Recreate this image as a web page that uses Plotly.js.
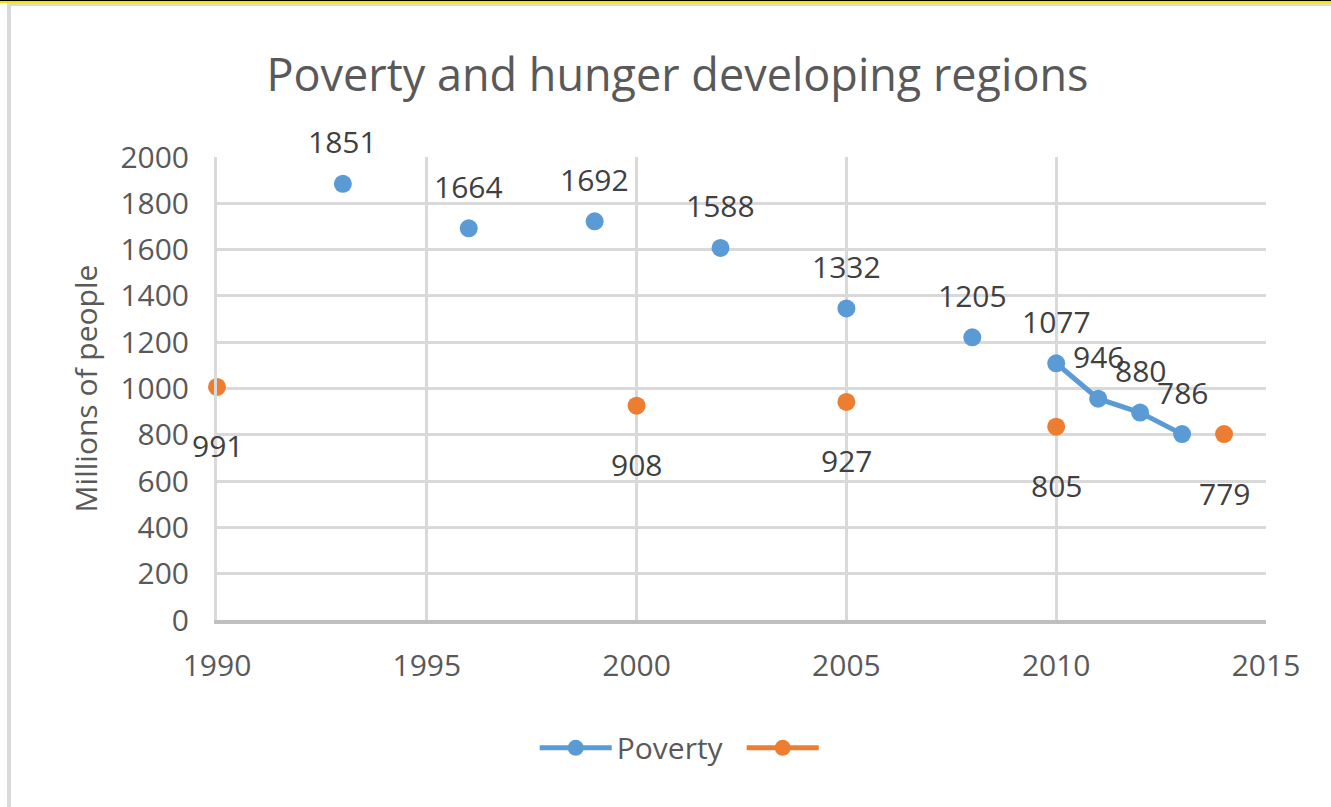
<!DOCTYPE html>
<html>
<head>
<meta charset="utf-8">
<script src="https://cdn.plot.ly/plotly-3.0.1.min.js"></script>
<style>
  html, body { margin:0; padding:0; background:#ffffff; }
  .ov { position:absolute; pointer-events:none; z-index:10; }
</style>
</head>
<body>
<div id="chart" style="position:absolute;left:0;top:0;width:1331px;height:807px;"></div>
<div class="ov" style="left:0;top:0;width:1331px;height:1px;background:#000000;"></div>
<div class="ov" style="left:0;top:1px;width:1331px;height:2px;background:#f2e600;"></div>
<div class="ov" style="left:7px;top:3px;width:1324px;height:3px;background:#d9d9d9;"></div>
<div class="ov" style="left:7px;top:3px;width:4px;height:804px;background:#d9d9d9;"></div>
<script>
// ---- data ----
const years = [1990,1991,1992,1993,1994,1995,1996,1997,1998,1999,2000,2001,2002,2003,2004,2005,2006,2007,2008,2009,2010,2011,2012,2013,2014];
// plotted positions of the Poverty markers (millions of people)
const povertyValues = [null,null,null,1884,null,null,1692,null,null,1722,null,null,1607,null,null,1346,null,null,1221,null,1109,956,896,803,null];
// data label text shown for Poverty
const povertyLabels = [null,null,null,"1851",null,null,"1664",null,null,"1692",null,null,"1588",null,null,"1332",null,null,"1205",null,"1077","946","880","786",null];
// plotted positions of the hunger markers
const hungerValues = [1007,null,null,null,null,null,null,null,null,null,926,null,null,null,null,942,null,null,null,null,835,null,null,null,803];
// data label text shown for hunger
const hungerLabels = ["991",null,null,null,null,null,null,null,null,null,"908",null,null,null,null,"927",null,null,null,null,"805",null,null,null,"779"];
const xTicks = [1990,1995,2000,2005,2010,2015];
const yTicks = [0,200,400,600,800,1000,1200,1400,1600,1800,2000];

const FONT = "'Open Sans', 'Noto Sans', sans-serif";
const BLUE = "#5b9bd5", ORANGE = "#ed7d31";

const traces = [
  {
    x: years, y: povertyValues, name: "Poverty", type: "scatter", mode: "lines+markers",
    connectgaps: false, cliponaxis: false,
    line: {color: BLUE, width: 5},
    marker: {color: BLUE, size: 18}
  },
  {
    x: years, y: hungerValues, name: " ", type: "scatter", mode: "lines+markers",
    connectgaps: false, cliponaxis: false,
    line: {color: ORANGE, width: 5},
    marker: {color: ORANGE, size: 18}
  }
];

const annotations = [];
years.forEach((yr, i) => {
  if (povertyLabels[i] !== null) {
    annotations.push({x: yr, y: povertyValues[i], xref: "x", yref: "y", text: povertyLabels[i],
      showarrow: false, yshift: 42, font: {family: FONT, size: 30, color: "#404040"}});
  }
  if (hungerLabels[i] !== null) {
    annotations.push({x: yr, y: hungerValues[i], xref: "x", yref: "y", text: hungerLabels[i],
      showarrow: false, yshift: -59, font: {family: FONT, size: 30, color: "#404040"}});
  }
});

const layout = {
  width: 1331, height: 807,
  margin: {l: 217, r: 65, t: 157, b: 187, autoexpand: false},
  paper_bgcolor: "#ffffff", plot_bgcolor: "#ffffff",
  font: {family: FONT, color: "#595959", size: 30},
  title: {text: "Poverty and hunger developing regions", x: 0.509, xref: "container", xanchor: "center",
          y: 0.907, yref: "container", yanchor: "middle",
          font: {family: FONT, size: 45, color: "#595959"}},
  xaxis: {
    range: [1990, 2015], tickvals: xTicks, ticktext: xTicks.map(String),
    showgrid: true, gridcolor: "#d9d9d9", gridwidth: 3,
    showline: true, linecolor: "#bfbfbf", linewidth: 4, mirror: false,
    zeroline: false, ticks: "", ticklabelstandoff: 16,
    tickfont: {family: FONT, size: 30, color: "#595959"}, fixedrange: true
  },
  yaxis: {
    range: [0, 2000], tickvals: yTicks, ticktext: yTicks.map(String),
    showgrid: true, gridcolor: "#d9d9d9", gridwidth: 3,
    showline: true, linecolor: "#d9d9d9", linewidth: 3,
    zeroline: false, ticks: "", ticklabelstandoff: 19,
    tickfont: {family: FONT, size: 30, color: "#595959"},
    title: {text: "Millions of people", standoff: 14, font: {family: FONT, size: 30, color: "#595959"}},
    fixedrange: true
  },
  showlegend: true,
  legend: {orientation: "h", x: 0.5002, xanchor: "center", y: -0.276, yanchor: "middle",
           itemwidth: 72, entrywidth: 120, entrywidthmode: "pixels",
           font: {family: FONT, size: 30, color: "#595959"}, bgcolor: "rgba(0,0,0,0)"},
  annotations: annotations
};

Plotly.newPlot("chart", traces, layout, {displayModeBar: false, staticPlot: true});
</script>
</body>
</html>
